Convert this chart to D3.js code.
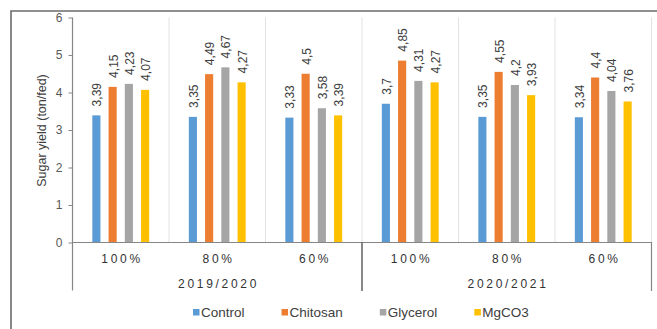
<!DOCTYPE html>
<html>
<head>
<meta charset="utf-8">
<script src="https://cdn.jsdelivr.net/npm/d3@7"></script>
<style>
  html, body { margin: 0; padding: 0; background: #fff; }
  svg { display: block; font-family: "Liberation Sans", Arial, sans-serif; }
</style>
</head>
<body>
<svg id="chart" width="657" height="329"></svg>
<script>
// Irrigation levels within each season, and the seasons themselves
const levels = ["100%", "80%", "60%", "100%", "80%", "60%"];
const seasons = ["2019/2020", "2020/2021"];
const series = ["Control", "Chitosan", "Glycerol", "MgCO3"];
const colors = ["#5B9BD5", "#ED7D31", "#A5A5A5", "#FFC000"];

// Sugar yield (ton/fed) per treatment, one value per level group
const control  = [3.39, 3.35, 3.33, 3.70, 3.35, 3.34];
const chitosan = [4.15, 4.49, 4.50, 4.85, 4.55, 4.40];
const glycerol = [4.23, 4.67, 3.58, 4.31, 4.20, 4.04];
const mgco3    = [4.07, 4.27, 3.39, 4.27, 3.93, 3.76];
const yTicks = [0, 1, 2, 3, 4, 5, 6];

const values = [control, chitosan, glycerol, mgco3];

const svg = d3.select("#chart");
const plotL = 72.5, plotR = 651.5, plotT = 17.5, plotB = 242.5;

// Outer frame (clipped at right/bottom edges)
svg.append("path")
  .attr("d", "M11,340 L11,11 L670,11")
  .attr("fill", "none").attr("stroke", "#6b6b6b").attr("stroke-width", 1.6);

const y = d3.scaleLinear().domain([0, 6]).range([plotB, plotT]);
const x0 = d3.scaleBand().domain(d3.range(levels.length)).range([plotL, plotR]).padding(0);
const x1 = d3.scaleBand().domain(series).range([0, x0.bandwidth()])
  .paddingInner(0.5).paddingOuter(1.22);

// Light vertical separators between level groups
svg.append("g").selectAll("line")
  .data(d3.range(1, levels.length + 1))
  .join("line")
  .attr("x1", i => x0(i) !== undefined ? x0(i) : plotR)
  .attr("x2", i => x0(i) !== undefined ? x0(i) : plotR)
  .attr("y1", plotT).attr("y2", plotB)
  .attr("stroke", "#e2e2e2").attr("stroke-width", 1);

// Bars
const barData = [];
levels.forEach((lv, gi) => series.forEach((s, si) => barData.push({ gi, si, s, v: values[si][gi] })));

svg.append("g").selectAll("rect")
  .data(barData)
  .join("rect")
  .attr("x", d => x0(d.gi) + x1(d.s))
  .attr("width", x1.bandwidth())
  .attr("y", d => y(d.v))
  .attr("height", d => y(0) - y(d.v))
  .attr("fill", d => colors[d.si]);

// Value labels, rotated, with comma decimal separator
svg.append("g").selectAll("text")
  .data(barData)
  .join("text")
  .attr("transform", d => `translate(${x0(d.gi) + x1(d.s) + x1.bandwidth() / 2 + 1},${y(d.v) - 9}) rotate(-90)`)
  .attr("dominant-baseline", "central")
  .attr("font-size", 12)
  .attr("fill", "#404040")
  .text(d => String(d.v).replace(".", ","));

// Y axis
const yAxis = svg.append("g")
  .attr("transform", `translate(${plotL},0)`)
  .call(d3.axisLeft(y).tickValues(yTicks).tickSize(4).tickPadding(6).tickFormat(d3.format("d")));
yAxis.select(".domain").remove();
yAxis.selectAll(".tick line").attr("stroke", "#868686");
yAxis.selectAll(".tick text").attr("font-size", 12).attr("fill", "#595959")
  .attr("font-family", "Liberation Sans, Arial, sans-serif");

// Axis lines: left spine extends down through the category labels
svg.append("path")
  .attr("d", `M${plotL},${plotT} L${plotL},290.5`)
  .attr("fill", "none").attr("stroke", "#868686").attr("stroke-width", 1.2);
svg.append("path")
  .attr("d", `M${plotL},${plotB} L${plotR},${plotB} L${plotR},291`)
  .attr("fill", "none").attr("stroke", "#868686").attr("stroke-width", 1.2);

// Season separator
const mid = x0(3);
svg.append("line")
  .attr("x1", mid).attr("x2", mid).attr("y1", plotB).attr("y2", 291)
  .attr("stroke", "#3a3a3a").attr("stroke-width", 1.2);

// Level labels
const ls = 2.7;
svg.append("g").selectAll("text")
  .data(levels)
  .join("text")
  .attr("x", (d, i) => x0(i) + x0.bandwidth() / 2 + ls / 2)
  .attr("y", 259)
  .attr("dominant-baseline", "central")
  .attr("text-anchor", "middle")
  .attr("font-size", 12)
  .attr("letter-spacing", ls)
  .attr("fill", "#333")
  .text(d => d);

// Season labels, centred under their three groups
svg.append("g").selectAll("text")
  .data(seasons)
  .join("text")
  .attr("x", (d, i) => (x0(i * 3) + (i === 0 ? x0(3) : plotR)) / 2 + ls / 2)
  .attr("y", 284)
  .attr("dominant-baseline", "central")
  .attr("text-anchor", "middle")
  .attr("font-size", 12)
  .attr("letter-spacing", ls)
  .attr("fill", "#333")
  .text(d => d);

// Y axis title
svg.append("text")
  .attr("transform", "translate(41.5,130.5) rotate(-90)")
  .attr("text-anchor", "middle")
  .attr("dominant-baseline", "central")
  .attr("font-size", 12.5)
  .attr("fill", "#404040")
  .text("Sugar yield (ton/fed)");

// Legend
const legend = svg.append("g");
let lx = 193;
series.forEach((s, i) => {
  const g = legend.append("g");
  g.append("rect").attr("x", lx).attr("y", 309).attr("width", 6.5).attr("height", 6.5).attr("fill", colors[i]);
  const t = g.append("text")
    .attr("x", lx + 8).attr("y", 312.5)
    .attr("dominant-baseline", "central")
    .attr("font-size", 13.5)
    .attr("fill", "#404040")
    .text(s);
  lx += 8 + t.node().getComputedTextLength() + 37;
});
</script>
</body>
</html>
